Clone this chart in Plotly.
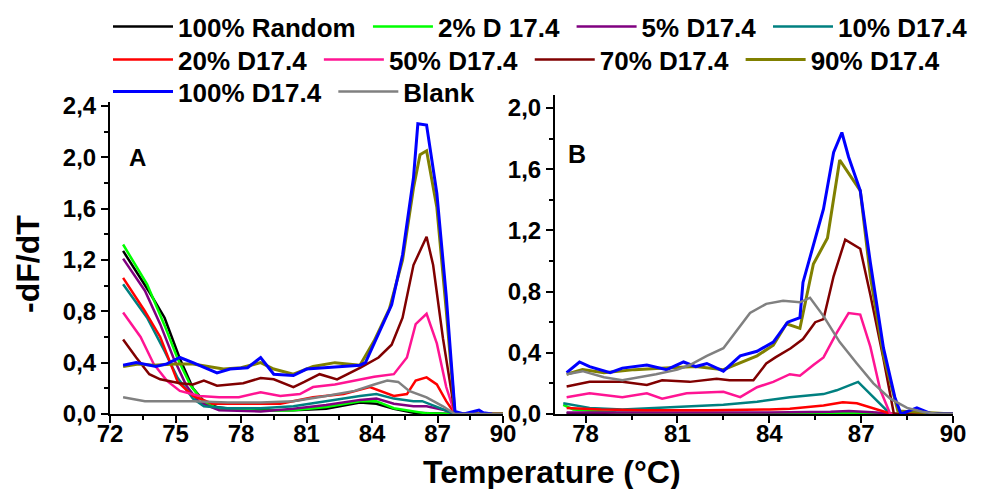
import plotly.graph_objects as go

names = ["100% Random", "2% D 17.4", "5% D17.4", "10% D17.4", "20% D17.4",
         "50% D17.4", "70% D17.4", "90% D17.4", "100% D17.4", "Blank"]
colors = ["#000000", "#00ff00", "#800080", "#008080", "#ff0000",
          "#ff1493", "#800000", "#808000", "#0000ff", "#808080"]
legend_rows = ["legend", "legend", "legend", "legend", "legend2",
               "legend2", "legend2", "legend2", "legend3", "legend3"]

# ---------------- Panel A ----------------
A_black_x = [72.6, 73.8, 74.5, 75.2, 75.8, 76.4, 77.0, 78.1, 80.4, 81.9, 83.45, 84.2, 85.0, 85.9, 87.8, 90]
A_black_y = [1.27, 0.95, 0.75, 0.43, 0.20, 0.08, 0.05, 0.03, 0.03, 0.04, 0.09, 0.08, 0.04, 0.01, 0.0, 0.0]
A_green_x = [72.6, 73.7, 74.5, 75.1, 75.7, 76.3, 77.0, 78.9, 80.4, 81.9, 83.45, 84.2, 85.0, 85.9, 86.5, 87.8, 90]
A_green_y = [1.32, 1.01, 0.69, 0.43, 0.22, 0.09, 0.04, 0.025, 0.03, 0.055, 0.10, 0.10, 0.045, 0.02, 0.005, 0.0, 0.0]
A_purple_x = [72.6, 73.6, 74.3, 74.9, 75.5, 76.1, 77.0, 78.9, 80.4, 81.9, 83.45, 84.2, 85.0, 85.9, 86.5, 87.3, 87.8, 90]
A_purple_y = [1.21, 0.96, 0.70, 0.44, 0.22, 0.09, 0.03, 0.02, 0.04, 0.07, 0.11, 0.12, 0.08, 0.06, 0.06, 0.03, 0.0, 0.0]
A_teal_x = [72.6, 73.7, 74.5, 75.1, 75.8, 76.3, 77.4, 78.9, 80.4, 81.9, 83.45, 84.2, 85.0, 85.9, 86.3, 87.8, 90]
A_teal_y = [1.01, 0.75, 0.49, 0.28, 0.12, 0.06, 0.045, 0.045, 0.06, 0.10, 0.14, 0.155, 0.12, 0.10, 0.10, 0.0, 0.0]
A_red_x = [72.6, 73.6, 74.3, 74.8, 75.1, 75.8, 76.7, 78.1, 79.8, 81.3, 82.7, 83.9, 85.0, 85.6, 86.0, 86.5, 86.97, 87.4, 87.8, 90]
A_red_y = [1.06, 0.80, 0.60, 0.39, 0.25, 0.14, 0.08, 0.08, 0.08, 0.13, 0.155, 0.21, 0.14, 0.155, 0.26, 0.285, 0.23, 0.10, 0.0, 0.0]
A_pink_x = [72.6, 73.4, 74.0, 74.6, 75.2, 76.1, 77.0, 77.9, 78.9, 79.8, 80.7, 81.3, 82.3, 83.2, 84.1, 85.0, 85.6, 86.0, 86.5, 86.97, 87.4, 87.8, 90]
A_pink_y = [0.79, 0.60, 0.39, 0.26, 0.18, 0.14, 0.13, 0.13, 0.17, 0.14, 0.155, 0.21, 0.23, 0.26, 0.29, 0.31, 0.44, 0.70, 0.78, 0.55, 0.21, 0.0, 0.0]
A_brown_x = [72.6, 73.2, 73.8, 74.3, 75.2, 75.8, 76.3, 76.9, 78.1, 78.9, 79.5, 80.4, 80.9, 81.6, 82.4, 83.45, 84.3, 84.9, 85.4, 85.9, 86.5, 86.8, 87.25, 87.8, 90]
A_brown_y = [0.58, 0.44, 0.31, 0.27, 0.24, 0.23, 0.26, 0.22, 0.24, 0.28, 0.27, 0.21, 0.25, 0.31, 0.27, 0.36, 0.44, 0.54, 0.75, 1.16, 1.38, 1.16, 0.59, 0.0, 0.0]
A_olive_x = [72.6, 73.3, 74.0, 75.0, 75.8, 76.6, 77.2, 78.0, 78.9, 79.5, 80.4, 81.3, 82.3, 83.45, 84.1, 84.8, 85.4, 85.9, 86.2, 86.5, 86.97, 87.4, 87.8, 90]
A_olive_y = [0.37, 0.39, 0.38, 0.39, 0.39, 0.37, 0.35, 0.36, 0.40, 0.35, 0.31, 0.37, 0.40, 0.38, 0.57, 0.82, 1.20, 1.76, 2.02, 2.05, 1.61, 0.81, 0.0, 0.0]
A_blue_x = [72.6, 73.2, 74.1, 74.6, 75.2, 75.8, 76.9, 77.5, 78.3, 78.9, 79.5, 80.4, 81.0, 81.9, 82.7, 83.45, 83.7, 84.2, 84.9, 85.4, 85.9, 86.1, 86.5, 86.97, 87.4, 87.8, 88.2, 88.9, 89.1, 89.5]
A_blue_y = [0.38, 0.40, 0.37, 0.39, 0.44, 0.40, 0.32, 0.35, 0.36, 0.44, 0.31, 0.30, 0.35, 0.36, 0.37, 0.38, 0.40, 0.59, 0.85, 1.24, 1.84, 2.26, 2.25, 1.72, 0.92, 0.02, 0.0, 0.03, 0.01, 0.0]
A_gray_x = [72.6, 73.6, 75.8, 77.4, 78.9, 80.4, 81.9, 83.2, 84.1, 84.7, 85.2, 85.7, 86.5, 87.25, 87.8, 90]
A_gray_y = [0.13, 0.10, 0.10, 0.09, 0.09, 0.10, 0.14, 0.18, 0.23, 0.26, 0.25, 0.18, 0.13, 0.06, 0.0, 0.0]

# ---------------- Panel B ----------------
B_black_x = [77.38, 80.0, 84.0, 88.0, 90]
B_black_y = [0.005, 0.005, 0.005, 0.0, 0.0]
B_green_x = [77.27, 77.6, 79.0, 81.0, 84.0, 87.0, 88.0, 90]
B_green_y = [0.06, 0.03, 0.01, 0.005, 0.005, 0.005, 0.0, 0.0]
B_purple_x = [77.38, 80.0, 84.0, 86.0, 86.6, 87.5, 88.0, 90]
B_purple_y = [0.01, 0.01, 0.01, 0.015, 0.02, 0.01, 0.0, 0.0]
B_teal_x = [77.27, 78.13, 79.2, 80.3, 81.3, 82.5, 83.6, 84.67, 85.77, 86.2, 86.9, 87.4, 87.95, 90]
B_teal_y = [0.07, 0.04, 0.03, 0.04, 0.05, 0.06, 0.08, 0.11, 0.13, 0.155, 0.21, 0.11, 0.0, 0.0]
B_red_x = [77.38, 78.5, 80.0, 82.0, 84.0, 84.67, 85.77, 86.4, 86.86, 87.4, 88.0, 90]
B_red_y = [0.04, 0.03, 0.025, 0.025, 0.03, 0.035, 0.055, 0.077, 0.07, 0.035, 0.0, 0.0]
B_pink_x = [77.38, 78.13, 79.2, 80.0, 80.5, 81.3, 82.5, 83.05, 83.6, 84.13, 84.67, 85.0, 85.44, 85.77, 86.2, 86.59, 86.97, 87.3, 87.62, 87.95, 90]
B_pink_y = [0.11, 0.135, 0.11, 0.135, 0.10, 0.135, 0.145, 0.11, 0.175, 0.21, 0.26, 0.25, 0.32, 0.37, 0.53, 0.66, 0.65, 0.44, 0.16, 0.0, 0.0]
B_brown_x = [77.38, 78.13, 79.2, 80.0, 80.5, 81.4, 82.28, 82.7, 83.48, 83.9, 84.2, 84.7, 85.1, 85.5, 85.77, 86.1, 86.48, 86.97, 87.3, 87.73, 88.07, 90]
B_brown_y = [0.18, 0.21, 0.21, 0.19, 0.22, 0.21, 0.23, 0.22, 0.22, 0.33, 0.37, 0.43, 0.49, 0.60, 0.62, 0.90, 1.14, 1.08, 0.78, 0.36, 0.0, 0.0]
B_olive_x = [77.38, 77.9, 78.6, 79.6, 80.6, 81.6, 82.5, 83.6, 84.13, 84.56, 85.0, 85.44, 85.9, 86.3, 86.97, 87.3, 87.73, 88.2, 90]
B_olive_y = [0.26, 0.29, 0.27, 0.29, 0.30, 0.31, 0.29, 0.38, 0.45, 0.59, 0.56, 0.98, 1.15, 1.66, 1.46, 0.90, 0.38, 0.02, 0.0]
B_blue_x = [77.38, 77.8, 78.13, 78.8, 79.2, 80.0, 80.65, 81.2, 81.6, 81.96, 82.5, 83.05, 83.6, 84.13, 84.6, 85.0, 85.1, 85.44, 85.77, 86.1, 86.37, 86.59, 86.97, 87.3, 87.73, 88.1, 88.3, 88.82, 89.3, 90]
B_blue_y = [0.27, 0.34, 0.31, 0.27, 0.30, 0.32, 0.29, 0.34, 0.31, 0.33, 0.28, 0.38, 0.41, 0.47, 0.60, 0.63, 0.86, 1.11, 1.34, 1.71, 1.84, 1.68, 1.46, 0.99, 0.43, 0.11, 0.0, 0.04, 0.0, 0.0]
B_gray_x = [77.38, 77.9, 78.6, 79.2, 80.3, 81.0, 81.4, 81.96, 82.5, 82.8, 83.37, 83.9, 84.45, 85.0, 85.33, 85.77, 86.3, 86.86, 87.4, 87.95, 88.5, 89.0, 89.5, 90]
B_gray_y = [0.26, 0.28, 0.24, 0.22, 0.26, 0.29, 0.32, 0.38, 0.43, 0.51, 0.66, 0.72, 0.74, 0.73, 0.76, 0.64, 0.47, 0.33, 0.20, 0.10, 0.04, 0.015, 0.0, 0.0]

A_series = [(A_black_x, A_black_y), (A_green_x, A_green_y), (A_purple_x, A_purple_y),
            (A_teal_x, A_teal_y), (A_red_x, A_red_y), (A_pink_x, A_pink_y),
            (A_brown_x, A_brown_y), (A_olive_x, A_olive_y), (A_blue_x, A_blue_y),
            (A_gray_x, A_gray_y)]
B_series = [(B_black_x, B_black_y), (B_green_x, B_green_y), (B_purple_x, B_purple_y),
            (B_teal_x, B_teal_y), (B_red_x, B_red_y), (B_pink_x, B_pink_y),
            (B_brown_x, B_brown_y), (B_olive_x, B_olive_y), (B_blue_x, B_blue_y),
            (B_gray_x, B_gray_y)]

FONT = "Liberation Sans, Arial, sans-serif"
NBSP = "\u00a0"

fig = go.Figure()
for i, (xs, ys) in enumerate(A_series):
    w = 3 if names[i] in ("100% D17.4", "90% D17.4") else 2.5
    fig.add_trace(go.Scatter(x=xs, y=ys, mode="lines", name=names[i] + NBSP,
                             line=dict(color=colors[i], width=w),
                             legend=legend_rows[i], xaxis="x", yaxis="y"))
for i, (xs, ys) in enumerate(B_series):
    w = 3 if names[i] in ("100% D17.4", "90% D17.4") else 2.5
    fig.add_trace(go.Scatter(x=xs, y=ys, mode="lines", name=names[i],
                             line=dict(color=colors[i], width=w),
                             showlegend=False, xaxis="x2", yaxis="y2"))

axis_common = dict(showline=True, linecolor="black", linewidth=2, ticks="outside",
                   ticklen=7, tickwidth=2, tickcolor="black", showgrid=False,
                   zeroline=False, tickfont=dict(size=24, family=FONT, color="black", weight="bold"))
minor_common = dict(ticks="outside", ticklen=4, tickwidth=1.5, tickcolor="black", showgrid=False)

L, R, T, B = 110, 29, 95, 75
pw = 982 - L - R
ph = 489 - T - B

def px_x(p):
    return (p - L) / pw

def px_y(p):
    return (489 - B - p) / ph

legend_common = dict(orientation="h", xanchor="left", yanchor="top",
                     bgcolor="rgba(0,0,0,0)", itemwidth=60, tracegroupgap=0,
                     font=dict(size=26, family=FONT, color="black", weight="bold"))

fig.update_layout(
    width=982, height=489,
    margin=dict(l=L, r=R, t=T, b=B, autoexpand=False),
    paper_bgcolor="white", plot_bgcolor="white",
    separators=",.",
    font=dict(family=FONT, color="black", weight="bold"),
    xaxis=dict(domain=[0, px_x(503)], range=[72, 90], tick0=72, dtick=3,
               ticklabelstandoff=-10,
               minor=dict(dtick=1.5, tick0=72, **minor_common), **axis_common),
    yaxis=dict(domain=[0, px_y(102)], range=[0, 2.43], tick0=0, dtick=0.4,
               tickformat=".1f", minor=dict(dtick=0.2, tick0=0, **minor_common),
               **axis_common),
    xaxis2=dict(domain=[px_x(555), 1], range=[77, 90], tick0=78, dtick=3,
                ticklabelstandoff=-10,
                minor=dict(dtick=1.5, tick0=78, **minor_common), anchor="y2", **axis_common),
    yaxis2=dict(domain=[0, 1], range=[0, 2.085], tick0=0, dtick=0.4,
                tickformat=".1f", minor=dict(dtick=0.2, tick0=0, **minor_common),
                anchor="x2", **axis_common),
    legend=dict(x=px_x(108), y=px_y(3), **legend_common),
    legend2=dict(x=px_x(108), y=px_y(36), **legend_common),
    legend3=dict(x=px_x(108), y=px_y(68), **legend_common),
    annotations=[
        dict(text="A", x=73.26, y=2.0, xref="x", yref="y", showarrow=False,
             font=dict(size=24, family=FONT, color="black", weight="bold")),
        dict(text="B", x=77.72, y=1.70, xref="x2", yref="y2", showarrow=False,
             font=dict(size=25, family=FONT, color="black", weight="bold")),
        dict(text="Temperature (°C)", x=px_x(552), y=px_y(472), xref="paper", yref="paper",
             showarrow=False, xanchor="center", yanchor="middle",
             font=dict(size=32, family=FONT, color="black", weight="bold")),
        dict(text="-dF/dT", x=px_x(28), y=px_y(264), xref="paper", yref="paper",
             showarrow=False, textangle=-90, xanchor="center", yanchor="middle",
             font=dict(size=32, family=FONT, color="black", weight="bold")),
    ],
)

fig.write_html("out.html")
